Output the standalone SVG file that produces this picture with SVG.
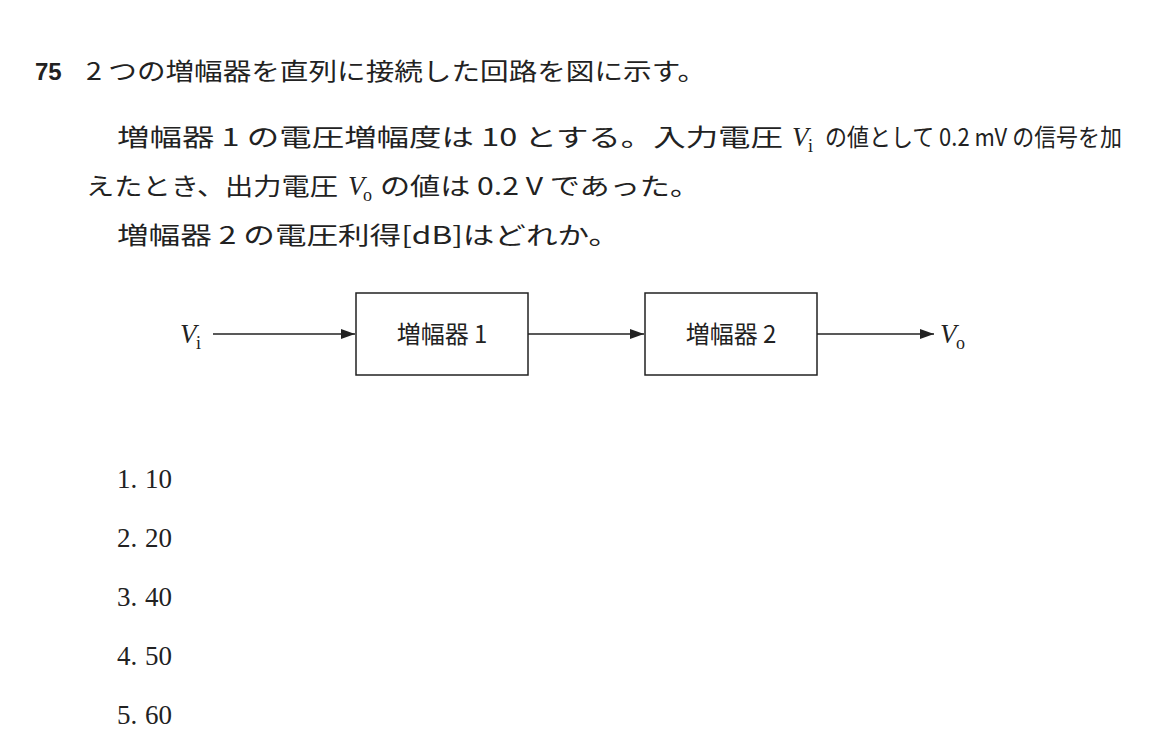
<svg xmlns="http://www.w3.org/2000/svg" width="1156" height="753" viewBox="0 0 1156 753">
<defs>
<style>
.j{font-family:"Noto Sans CJK JP","Liberation Serif",serif;font-size:24px;fill:#222}
.v{font-family:"Liberation Serif",serif;font-style:italic;font-size:27px;fill:#222}
.s{font-family:"Liberation Serif",serif;font-size:18px;fill:#222}
.n{font-family:"Liberation Serif",serif;font-size:27px;fill:#222}
.box{fill:#fff;stroke:#222;stroke-width:1.5}
.ln{stroke:#222;stroke-width:1.5;fill:none;marker-end:url(#ah)}
</style>
<marker id="ah" viewBox="0 0 14 12" refX="14" refY="6" markerWidth="14" markerHeight="12" markerUnits="userSpaceOnUse" orient="auto"><path d="M0,1 L14,6 L0,11 z" fill="#222"/></marker>
</defs>
<rect width="1156" height="753" fill="#fff"/>
<text x="35" y="80" style="font-family:'Liberation Sans',sans-serif;font-weight:bold;font-size:24px;fill:#222">75</text>
<text class="j" x="86" y="80" textLength="620" lengthAdjust="spacingAndGlyphs">2 つの増幅器を直列に接続した回路を図に示す。</text>
<text class="j" x="117" y="146" textLength="666" lengthAdjust="spacingAndGlyphs">増幅器 1 の電圧増幅度は 10 とする。入力電圧</text>
<text class="v" x="792" y="146">V</text><text class="s" x="808" y="152">i</text>
<text class="j" x="825" y="146" textLength="297" lengthAdjust="spacingAndGlyphs">の値として 0.2 mV の信号を加</text>
<text class="j" x="86" y="195" textLength="252" lengthAdjust="spacingAndGlyphs">えたとき、出力電圧</text>
<text class="v" x="348" y="195">V</text><text class="s" x="363" y="201">o</text>
<text class="j" x="380" y="195" textLength="320" lengthAdjust="spacingAndGlyphs">の値は 0.2 V であった。</text>
<text class="j" x="117" y="244" textLength="503" lengthAdjust="spacingAndGlyphs">増幅器 2 の電圧利得[dB]はどれか。</text>
<g id="connectors">
<line class="ln" x1="213" y1="334" x2="355" y2="334"/>
<line class="ln" x1="528" y1="334" x2="644" y2="334"/>
<line class="ln" x1="817" y1="334" x2="934" y2="334"/>
</g>
<g id="vi"><text class="v" x="180" y="343">V</text><text class="s" x="196" y="349">i</text></g>
<g id="amp1"><rect class="box" x="356" y="293" width="172" height="82"/><text class="j" x="442" y="343" text-anchor="middle">増幅器 1</text></g>
<g id="amp2"><rect class="box" x="645" y="293" width="172" height="82"/><text class="j" x="731" y="343" text-anchor="middle">増幅器 2</text></g>
<g id="vo"><text class="v" x="940" y="343">V</text><text class="s" x="956" y="349">o</text></g>
<g class="n">
<text class="n" x="117" y="488">1.</text><text class="n" x="145" y="488">10</text>
<text class="n" x="117" y="547">2.</text><text class="n" x="145" y="547">20</text>
<text class="n" x="117" y="606">3.</text><text class="n" x="145" y="606">40</text>
<text class="n" x="117" y="665">4.</text><text class="n" x="145" y="665">50</text>
<text class="n" x="117" y="724">5.</text><text class="n" x="145" y="724">60</text>
</g>
</svg>
